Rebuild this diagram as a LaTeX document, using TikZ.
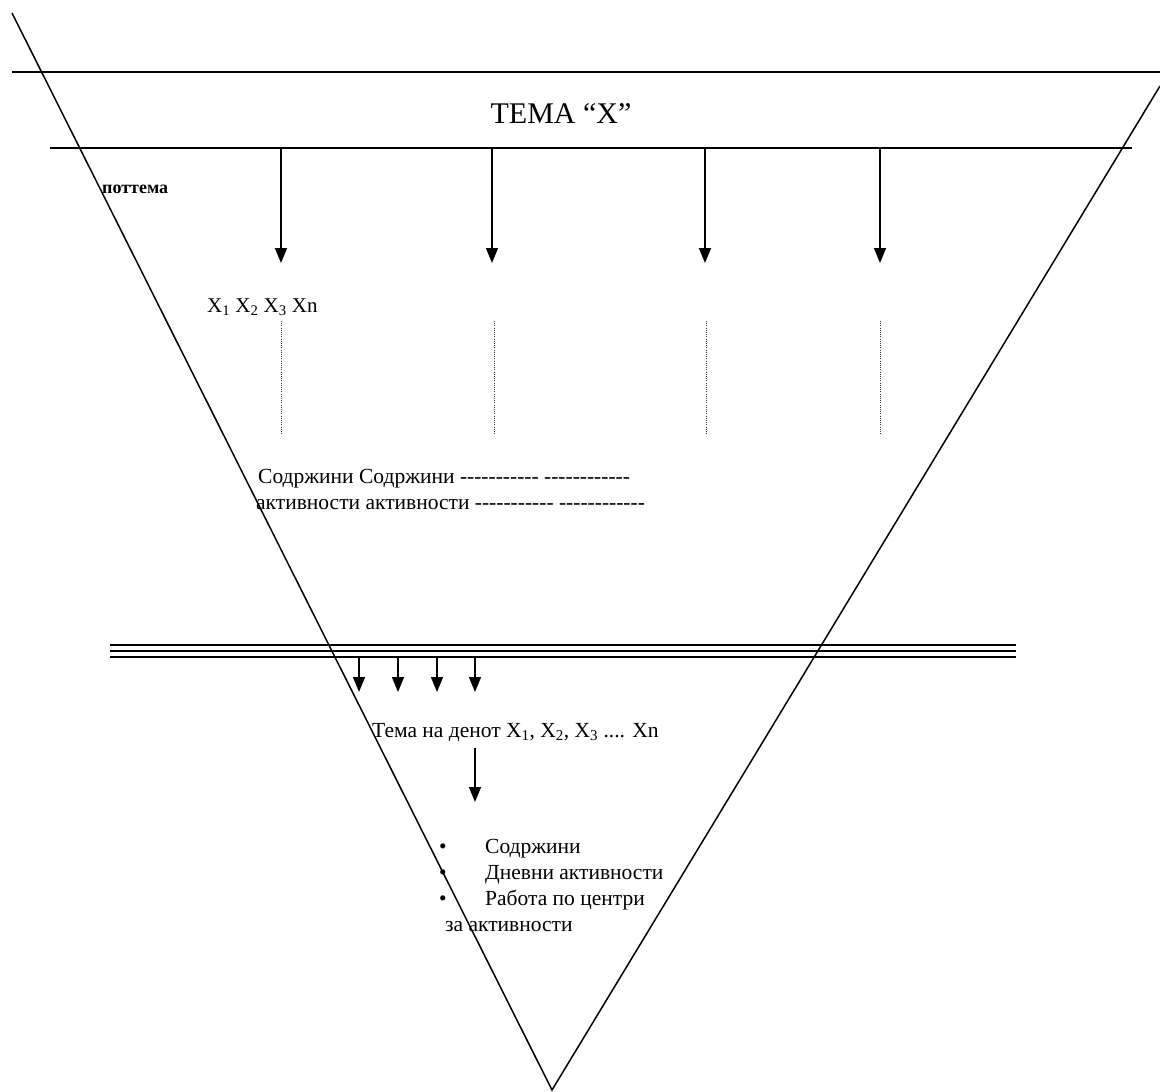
\documentclass[tikz,border=0pt]{standalone}
\usepackage{fontspec}
\setmainfont{Liberation Serif}[Ligatures=TeXOff]
\usetikzlibrary{arrows.meta}
\begin{document}
\begin{tikzpicture}[x=1pt,y=-1pt,
  thinline/.style={line width=1.5pt},
  arr/.style={line width=1.6pt,-{Triangle[length=15pt,width=12pt]}},
  dotline/.style={line width=1pt,dash pattern=on 1pt off 1.2pt,black!80},
  txt/.style={anchor=base west,inner sep=0pt,font=\fontsize{21.5}{24}\selectfont},
  ]
\useasboundingbox (0,0) rectangle (1160,1092);
% triangle
\coordinate (tl) at (12,13);
\coordinate (tr) at (1160,86);
\coordinate (apex) at (552,1090);
\draw[thinline] (tl) -- (apex) -- (tr);
% top band
\coordinate (h1a) at (12,72);
\coordinate (h1b) at (1160,72);
\coordinate (h2a) at (50,148);
\coordinate (h2b) at (1132,148);
\draw[thinline] (h1a) -- (h1b);
\draw[thinline] (h2a) -- (h2b);
\node[anchor=base,inner sep=0pt,font=\fontsize{30}{34}\selectfont] (tema) at (561,123) {ТЕМА “X”};
\node[txt,font=\fontsize{18}{21}\selectfont\bfseries] (pot) at (102,193) {поттема};
% top arrows
\foreach \i/\x in {1/281,2/492,3/705,4/880}{
  \coordinate (s\i) at (\x,148);
  \coordinate (e\i) at (\x,263);
  \draw[arr] (s\i) -- (e\i);
}
\node[txt,font=\fontsize{21}{24}\selectfont] (xs) at (207,312) {X\textsubscript{1} X\textsubscript{2} X\textsubscript{3} Xn};
% dotted lines
\foreach \i/\x in {1/281,2/494,3/706,4/880}{
  \coordinate (da\i) at (\x,321);
  \coordinate (db\i) at (\x,435);
  \draw[dotline] (da\i) -- (db\i);
}
\node[txt] (c1) at (258,483) {Содржини Содржини ----------- ------------};
\node[txt] (c2) at (256,509) {активности активности ----------- ------------};
% triple line
\coordinate (la) at (110,645); \coordinate (lb) at (1016,645);
\coordinate (ma) at (110,651); \coordinate (mb) at (1016,651);
\coordinate (na) at (110,657); \coordinate (nb) at (1016,657);
\draw[line width=1.6pt] (la) -- (lb);
\draw[line width=2.8pt] (ma) -- (mb);
\draw[line width=1.6pt] (na) -- (nb);
% small arrows
\foreach \i/\x in {1/359,2/398,3/437,4/475}{
  \coordinate (ss\i) at (\x,657);
  \coordinate (se\i) at (\x,692);
  \draw[arr] (ss\i) -- (se\i);
}
\node[txt] (den) at (372,737) {Тема на денот X\textsubscript{1}, X\textsubscript{2}, X\textsubscript{3} .... Xn};
\coordinate (da) at (475,748);
\coordinate (db) at (475,802);
\draw[arr] (da) -- (db);
% bullets
\node[txt] (b1) at (439,853) {•};
\node[txt] (b2) at (439,879) {•};
\node[txt] (b3) at (439,905) {•};
\node[txt] (t1) at (485,853) {Содржини};
\node[txt] (t2) at (485,879) {Дневни активности};
\node[txt] (t3) at (485,905) {Работа по центри};
\node[txt] (t4) at (445,931) {за активности};
\end{tikzpicture}
\end{document}
